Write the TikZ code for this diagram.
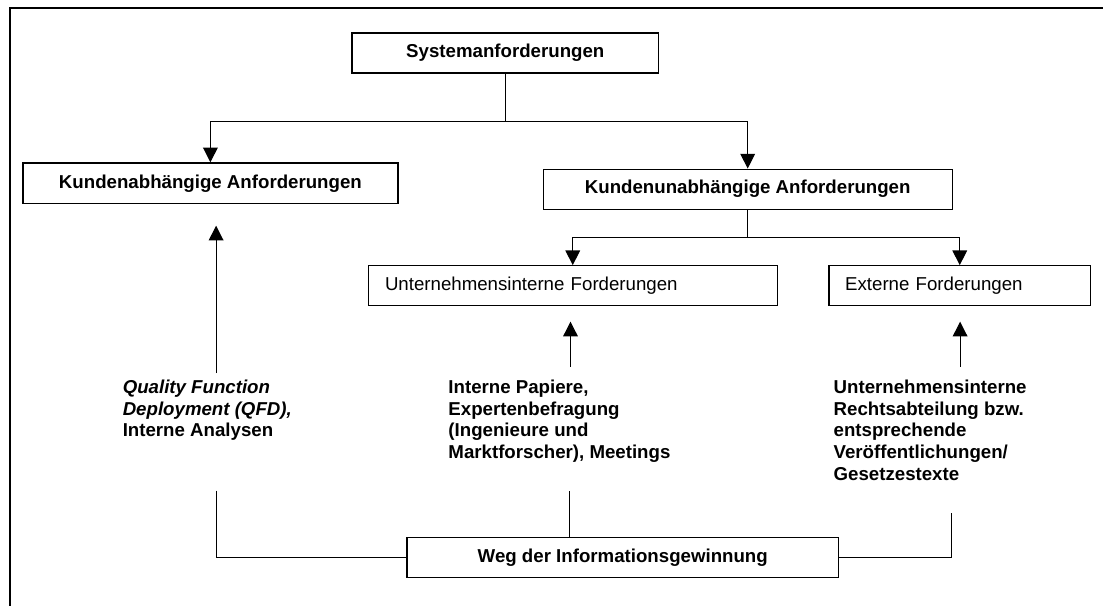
\documentclass[tikz,border=0pt]{standalone}
\usepackage{fontspec}
\setmainfont{Liberation Sans}
\usetikzlibrary{arrows.meta}
\begin{document}
\begin{tikzpicture}[x=0.75pt,y=-0.75pt,
  box/.style={draw, line width=1pt, inner sep=0pt, minimum height=30pt,
    font=\bfseries\fontsize{14}{16.2}\selectfont, align=center},
  lbox/.style={draw, line width=1pt, inner ysep=0pt, minimum height=30pt,
    font=\fontsize{14}{16.2}\selectfont, align=left},
  txt/.style={inner sep=0pt, anchor=north west, align=left,
    font=\bfseries\fontsize{14}{16.2}\selectfont},
  conn/.style={line width=0.8pt},
  arr/.style={conn, -{Triangle[width=11pt,length=11pt]}},
  frame/.style={line width=1.5pt}]
\useasboundingbox (0,0) rectangle (1103,606);

% outer frame (top and left edges)
\draw[frame] (10,606) -- (10,7.7) -- (1103,7.7);

% boxes
\node[box, minimum width=229.8pt] (sys) at (505.3,53) {Systemanforderungen};
\node[box, minimum width=281.25pt, minimum height=30.5pt] (kab) at (210.4,183.3) {Kundenabhängige Anforderungen};
\node[box, minimum width=306.75pt] (kun) at (747.7,189.2) {Kundenunabhängige Anforderungen};
\node[lbox, inner xsep=12.6pt, text width=281.6pt] (uif) at (572.75,285.8) {Unternehmensinterne Forderungen};
\node[lbox, inner xsep=12.1pt, text width=171.9pt] (ext) at (959.75,285.8) {Externe Forderungen};
\node[box, minimum width=323.5pt] (weg) at (622.75,557.3) {Weg der Informationsgewinnung};

% information sources
\node[txt] (qfd) at (122.5,380) {\textit{Quality Function}\\\textit{Deployment (QFD),}\\Interne Analysen};
\node[txt] (pap) at (448.2,380) {Interne Papiere,\\Expertenbefragung\\(Ingenieure und\\Marktforscher), Meetings};
\node[txt] (rec) at (833.4,380) {Unternehmensinterne\\Rechtsabteilung bzw.\\entsprechende\\Veröffentlichungen/\\Gesetzestexte};

% hierarchy connectors
\draw[conn] (sys.south) -- ++(0,48) coordinate (j1);
\draw[arr] (j1) -| (kab.north);
\draw[arr] (j1) -| (kun.north);
\draw[conn] (kun.south) -- ++(0,28) coordinate (j2);
\draw[arr] (j2) -| (uif.north);
\draw[arr] (j2) -| (ext.north);

% upward arrows from the sources
\coordinate (u1s) at (216.1,373);   \coordinate (u1e) at (216.1,225.7);
\coordinate (u2s) at (570.5,366.7); \coordinate (u2e) at (570.5,321.7);
\coordinate (u3s) at (960.1,366.7); \coordinate (u3e) at (960.1,321.7);
\draw[arr] (u1s) -- (u1e);
\draw[arr] (u2s) -- (u2e);
\draw[arr] (u3s) -- (u3e);

% lines to the information path box
\coordinate (b1) at (216.1,490.7);
\coordinate (b2) at (569.4,491);
\coordinate (b3) at (951.9,513.3);
\draw[conn] (b1) |- (weg.west);
\draw[conn] (b2) -- (b2 |- weg.north);
\draw[conn] (weg.east) -| (b3);
\end{tikzpicture}
\end{document}
